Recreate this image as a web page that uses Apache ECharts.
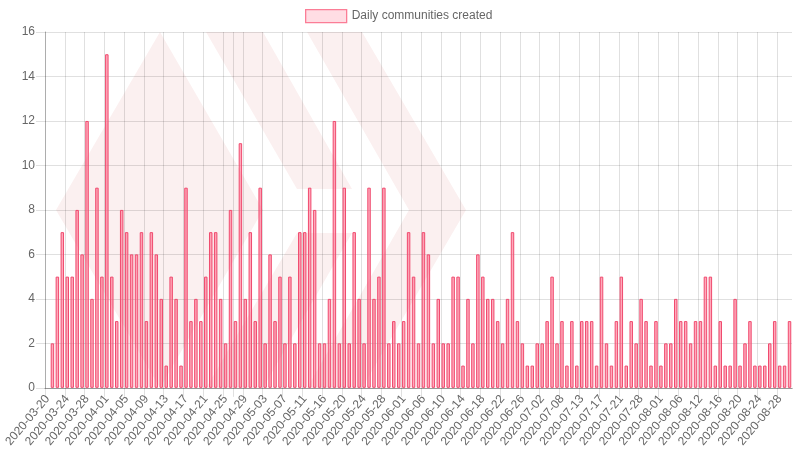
<!DOCTYPE html>
<html><head><meta charset="utf-8">
<script src="https://cdn.jsdelivr.net/npm/echarts@6/dist/echarts.min.js"></script>
<style>html,body{margin:0;padding:0;background:#fff}#c{width:798px;height:450px}</style>
</head><body><div id="c"></div>
<script>
const seriesName = 'Daily communities created';
const dates = [
'2020-03-20','2020-03-21','2020-03-22','2020-03-23','2020-03-24','2020-03-25','2020-03-26','2020-03-27',
'2020-03-28','2020-03-29','2020-03-30','2020-03-31','2020-04-01','2020-04-02','2020-04-03','2020-04-04',
'2020-04-05','2020-04-06','2020-04-07','2020-04-08','2020-04-09','2020-04-10','2020-04-11','2020-04-12',
'2020-04-13','2020-04-14','2020-04-15','2020-04-16','2020-04-17','2020-04-18','2020-04-19','2020-04-20',
'2020-04-21','2020-04-22','2020-04-23','2020-04-24','2020-04-25','2020-04-26','2020-04-27','2020-04-28',
'2020-04-29','2020-04-30','2020-05-01','2020-05-02','2020-05-03','2020-05-04','2020-05-05','2020-05-06',
'2020-05-07','2020-05-08','2020-05-09','2020-05-10','2020-05-11','2020-05-12','2020-05-13','2020-05-15',
'2020-05-16','2020-05-17','2020-05-18','2020-05-19','2020-05-20','2020-05-21','2020-05-22','2020-05-23',
'2020-05-24','2020-05-25','2020-05-26','2020-05-27','2020-05-28','2020-05-29','2020-05-30','2020-05-31',
'2020-06-01','2020-06-02','2020-06-03','2020-06-05','2020-06-06','2020-06-07','2020-06-08','2020-06-09',
'2020-06-10','2020-06-11','2020-06-12','2020-06-13','2020-06-14','2020-06-15','2020-06-16','2020-06-17',
'2020-06-18','2020-06-19','2020-06-20','2020-06-21','2020-06-22','2020-06-23','2020-06-24','2020-06-25',
'2020-06-26','2020-06-27','2020-06-29','2020-06-30','2020-07-02','2020-07-03','2020-07-05','2020-07-07',
'2020-07-08','2020-07-09','2020-07-10','2020-07-12','2020-07-13','2020-07-14','2020-07-15','2020-07-16',
'2020-07-17','2020-07-18','2020-07-19','2020-07-20','2020-07-21','2020-07-23','2020-07-25','2020-07-27',
'2020-07-28','2020-07-29','2020-07-30','2020-07-31','2020-08-01','2020-08-02','2020-08-04','2020-08-05',
'2020-08-06','2020-08-08','2020-08-09','2020-08-11','2020-08-12','2020-08-13','2020-08-14','2020-08-15',
'2020-08-16','2020-08-17','2020-08-18','2020-08-19','2020-08-20','2020-08-21','2020-08-22','2020-08-23',
'2020-08-24','2020-08-25','2020-08-26','2020-08-27','2020-08-28','2020-08-29','2020-08-30'];
const counts = [null,
2,5,7,5,5,8,6,12,4,9,5,15,5,3,8,7,6,6,7,3,7,6,4,1,5,4,1,9,3,4,3,5,7,7,4,2,8,3,11,4,7,3,9,2,6,
3,5,2,5,2,7,7,9,8,2,2,4,12,2,9,2,7,4,2,9,4,5,9,2,3,2,3,7,5,2,7,6,2,4,2,2,5,5,1,4,2,6,5,4,4,3,2,4,7,3,2,1,1,
2,2,3,5,2,3,1,3,1,3,3,3,1,5,2,1,3,5,1,3,2,4,3,1,3,1,2,2,4,3,3,2,3,3,5,5,1,3,1,1,4,1,2,3,1,1,1,2,3,1,1,3];
const watermark = [
  [[160,32],[263,210],[160,388],[56,210]],
  [[206,32],[263,32],[352,189],[297,189]],
  [[206,388],[263,388],[352,233],[297,233]],
  [[307,32],[362,32],[466,210],[362,388],[307,388],[409,210]]
];
const everyFourth = i => i % 4 === 0;
const gridTick = i => i % 4 === 0 || i === 38;
const chart = echarts.init(document.getElementById('c'), null, {renderer:'canvas'});
chart.setOption({
  animation:false,
  textStyle:{fontFamily:'"Liberation Sans",Arial,sans-serif'},
  graphic:[
    ...watermark.map(points => ({type:'polygon',z:-10,silent:true,shape:{points},style:{fill:'#fbf0f0'}})),
    {type:'rect',z:100,silent:true,shape:{x:788,y:389,width:10,height:10},style:{fill:'#fff'}}
  ],
  legend:{left:300,top:4,icon:'rect',itemWidth:41,itemHeight:13,itemGap:6,
    itemStyle:{color:'rgba(255,99,132,0.22)',borderColor:'#fb7d96',borderWidth:1.3},
    textStyle:{color:'#666',fontSize:12,padding:[0,0,0,0]},data:[seriesName]},
  grid:{left:45,right:6,top:32,bottom:61.5,containLabel:false},
  xAxis:{type:'category',data:dates,boundaryGap:true,
    axisLine:{show:true,lineStyle:{color:'rgba(0,0,0,0.32)',width:1}},
    axisTick:{show:true,length:9,interval:gridTick,lineStyle:{color:'rgba(0,0,0,0.12)'}},
    splitLine:{show:true,interval:gridTick,showMaxLine:false,showMinLine:false,lineStyle:{color:'rgba(0,0,0,0.12)',width:1}},
    axisLabel:{interval:everyFourth,rotate:50,margin:9,fontSize:12,color:'#666',hideOverlap:false}},
  yAxis:{type:'value',min:0,max:16,interval:2,
    axisLine:{show:true,lineStyle:{color:'rgba(0,0,0,0.32)',width:1}},
    axisTick:{show:true,length:9,lineStyle:{color:'rgba(0,0,0,0.12)'}},
    splitLine:{show:true,lineStyle:{color:'rgba(0,0,0,0.12)',width:1}},
    axisLabel:{margin:10,fontSize:12,color:'#666'}},
  series:[{name:seriesName,type:'bar',data:counts,barWidth:'70%',
    itemStyle:{color:'rgba(255,99,132,0.55)',borderColor:'#f04a6e',borderWidth:1}}]
});
</script></body></html>
